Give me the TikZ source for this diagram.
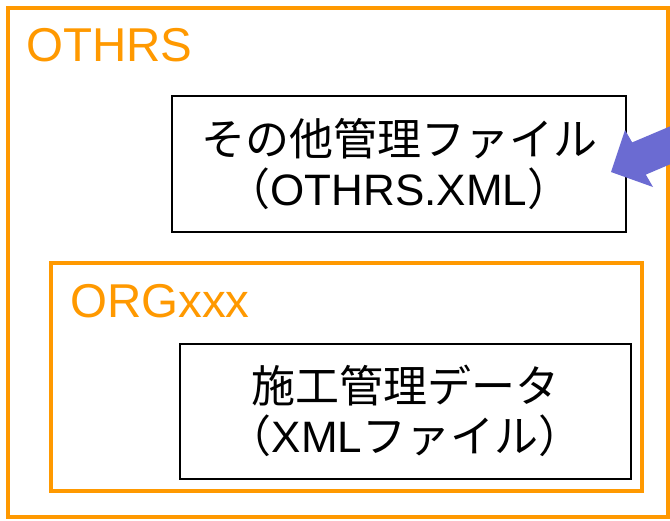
\documentclass[tikz,border=0pt]{standalone}
\usepackage{fontspec}
\setmainfont{Liberation Sans}
\newfontfamily\cjk{Noto Sans CJK JP}
\definecolor{orng}{HTML}{FF9900}
\definecolor{arrblue}{HTML}{6B6BD2}
\tikzset{
  frame/.style={draw=orng, line width=4pt},
  databox/.style={draw=black, line width=2pt, fill=white},
  label/.style={text=orng, font=\fontsize{47.5}{47.5}\selectfont, anchor=base west, inner sep=0pt},
  jtext/.style={font=\fontsize{44}{52}\selectfont, align=center, inner sep=0pt}
}
\begin{document}
\begin{tikzpicture}[x=1pt, y=-1pt]
\useasboundingbox (0,0) rectangle (670,520);
\clip (0,0) rectangle (670,520);
\fill[white] (0,0) rectangle (670,520);
% outer frame
\draw[frame] (8,8) rectangle (668,517);
\node[label] (othrs) at (26,61) {OTHRS};
% inner frame
\draw[frame] (51,263) rectangle (642,491);
\node[label] (org) at (70,317) {ORGxxx};
% boxes
\node[databox, minimum width=454pt, minimum height=136pt] (box1) at (399,164) {};
\node[jtext] (t1) at (box1.center) {{\cjk その他管理ファイル}\\[-2pt]{\cjk （}OTHRS.XML{\cjk ）}};
\node[databox, minimum width=451pt, minimum height=135pt] (box2) at (405,411) {};
\node[jtext] (t2) at (box2.center) {{\cjk 施工管理データ}\\[-2pt]{\cjk （}XML{\cjk ファイル）}};
% arrow
\fill[arrblue] (611,172) -- (625,130) -- (632.2,142.4) -- (678,123) -- (692,155) -- (645.8,174.6) -- (653,187) -- cycle;
\end{tikzpicture}
\end{document}
